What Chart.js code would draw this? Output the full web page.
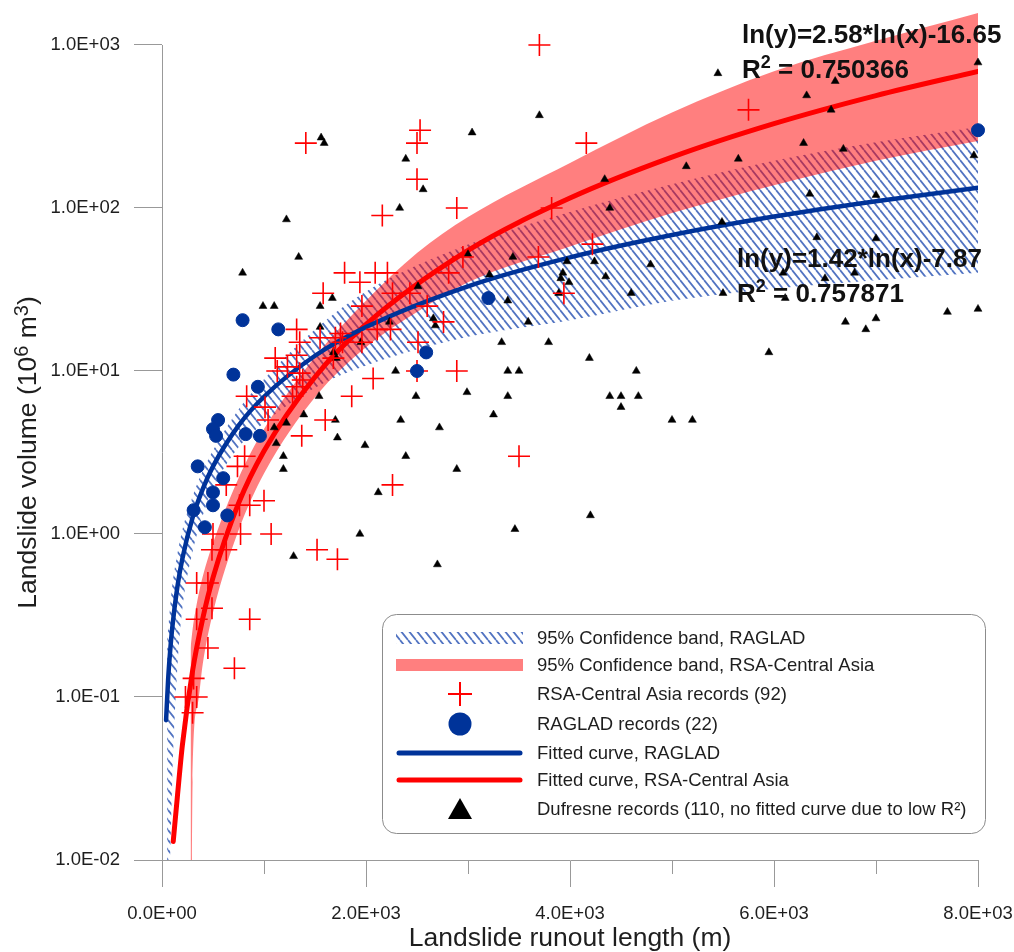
<!DOCTYPE html>
<html>
<head>
<meta charset="utf-8">
<script src="https://cdn.jsdelivr.net/npm/chart.js@4.4.1/dist/chart.umd.min.js"></script>
<style>
  html, body { margin: 0; padding: 0; background: #fff; }
  #wrap { width: 1014px; height: 952px; }
</style>
</head>
<body>
<div id="wrap"><canvas id="myChart" width="1014" height="952"></canvas></div>
<script>
// ---- data ----
const xTicks = [0, 2000, 4000, 6000, 8000];
const xMinorTicks = [1000, 3000, 5000, 7000];
const yTicks = [0.01, 0.1, 1, 10, 100, 1000];
const yMax = 1580; // a bit of room above 1.0E+03 for the red band

// 95% confidence band, RAGLAD
const blueBandX = [50, 80, 100, 150, 200, 300, 400, 500, 750, 1000, 1500, 2000, 3000, 4000, 5000, 6000, 7000, 8000];
const blueBandUpper = [0.22, 0.36, 0.48, 0.75, 1.06, 1.7, 2.45, 3.25, 5.8, 8.9, 18, 30.7, 59.6, 94.6, 140, 195, 253, 314];
const blueBandLower = [0.005, 0.01, 0.03, 0.15, 0.35, 0.78, 1.3, 1.9, 3.4, 4.8, 7.9, 10.8, 16.2, 20.5, 27, 32, 36, 40];

// 95% confidence band, RSA-Central Asia
const redBandX = [280, 300, 350, 400, 500, 750, 1000, 1500, 2000, 2500, 3000, 4000, 5000, 6000, 7000, 8000];
const redBandUpper = [0.2, 0.26, 0.4, 0.55, 0.88, 2.2, 4.4, 12.2, 27, 53, 88, 189, 385, 690, 1060, 1570];
const redBandLower = [0.0001, 0.03, 0.09, 0.16, 0.33, 1.05, 2.35, 6.9, 14, 23, 35, 58, 93, 138, 195, 258];

// fitted curves
const blueCurveX = [40, 60, 80, 100, 150, 200, 300, 400, 500, 750, 1000, 1500, 2000, 3000, 4000, 5000, 6000, 7000, 8000];
const blueCurveY = [0.072, 0.128, 0.192, 0.264, 0.47, 0.708, 1.26, 1.89, 2.6, 4.62, 6.95, 12.4, 18.6, 33.1, 49.8, 68.3, 88.6, 110, 133];
const redCurveX = [110, 150, 200, 300, 400, 500, 750, 1000, 1500, 2000, 3000, 4000, 5000, 6000, 7000, 8000];
const redCurveY = [0.013, 0.0242, 0.0507, 0.145, 0.304, 0.54, 1.54, 3.23, 9.19, 19.3, 54.9, 115, 205, 329, 489, 689];

// RSA-Central Asia records
const rsaX = [3700,1410,2530,2500,2500,2160,4160,2890,3820,5750, 1790,1940,2090,2210,1580,1960,2260,2430,2600,2950,
  2810,3690,4220,3940,2760,1320,1550,1750,2110,2240, 1960,1350,1700,2510,1110,1230,1130,1680,2070,2500,
  2890,1380,1320,1280,830,1860,1010,1600,1040,1370, 810,740,630,2260,1000,860,760,500,770,1070,
  490,630,1520,1720,340,450,3500,490,340,860, 450,710,310,230,340,300,1320,1350,1770];
const rsaY = [1000,250,300,250,150,90,250,100,100,400, 40,35,40,40,30,25,30,30,25,50,
  40,50,60,30,20,18,16,17,18,18, 15,15,16,15,12,10.6,10,12,9,10,
  10,8.8,8,7,7,7,6,5,5,4, 3,2.6,2,2,1.6,1.5,1.5,1,1,1,
  0.8,0.8,0.8,0.7,0.5,0.5,3,0.35,0.3,0.3, 0.2,0.15,0.13,0.1,0.1,0.08,12.5,9.7,15];

// RAGLAD records
const ragladX = [790,1140,700,940,550,500,530,820,960,350,600,500,500,310,640,420,3200,2590,2500,8000];
const ragladY = [20.5,18,9.5,8,5,4.4,4,4.1,4,2.6,2.2,1.8,1.5,1.4,1.3,1.1,28,13,10,300];

// Dufresne records
const dufX = [1560,1590,2390,2560,2330,1220,1340,790,1670,990, 1100,1550,2510,1550,2230,2660,2680,5450,3700,3040,
  5140,4340,4390,3000,3440,3210,3970,4240,4790,3930, 3910,3990,4350,3890,4600,3390,3590,3330,3790,4190,
  3390,3500,4650,2990,3390,4390,4500,4670,4500,3250, 5000,5200,2720,2890,4200,3460,2700,6600,6320,6560,
  8000,6290,6680,5650,7960,6350,7000,5490,6420,7000, 6090,6500,6790,5500,6110,6700,7000,6900,7700,8000,
  5950,1680,1710,1950,2290,2490,1390,1700,2340,1100, 1220,1720,1120,1990,1190,1190,2390,2120,1940,1290,1540];
const dufY = [270,250,200,130,100,85,50,40,28,25, 25,25,33,18.6,20,21,19,670,370,290,
  180,150,100,52,50,39,47,47,45,40, 37,35,38,30,30,27,20,15,15,12,
  10,10,10,7.4,7,7,7,7,6,5.4, 5,5,4.5,2.5,1.3,1.07,0.65,600,490,400,
  780,250,230,200,210,122,120,82,66,65, 40,37,40,30,28,20,21,18,23,24,
  13,13,12,15,10,7,5.4,5,5,4.5, 4.8,3.9,3.6,3.5,3.0,2.5,3.0,1.8,1.0,0.73,7];

const fitLabels = ['ln(y)=2.58*ln(x)-16.65', 'ln(y)=1.42*ln(x)-7.87'];
const r2Labels = ['0.750366', '0.757871'];
const legendLabels = [
  '95% Confidence band, RAGLAD',
  '95% Confidence band, RSA-Central Asia',
  'RSA-Central Asia records (92)',
  'RAGLAD records (22)',
  'Fitted curve, RAGLAD',
  'Fitted curve, RSA-Central Asia',
  'Dufresne records (110, no fitted curve due to low R\u00B2)'
];

// ---- styling ----
const FONT = "'Liberation Sans', Arial, sans-serif";
const RED = '#ff0000';
const BLUE = '#003399';
const RED_BAND = 'rgba(255,0,0,0.5)';
const AXIS = '#999999';
const TXT = '#1e1e1e';

Chart.defaults.font.family = FONT;

function makeHatch() {
  const c = document.createElement('canvas');
  c.width = 8; c.height = 10;
  const g = c.getContext('2d');
  g.strokeStyle = '#5274c2';
  g.lineWidth = 1.8;
  g.beginPath();
  for (const o of [-8, 0, 8]) { g.moveTo(o, 0); g.lineTo(o + 8, 10); }
  g.stroke();
  return g.createPattern(c, 'repeat');
}
const hatch = makeHatch();

const pts = (xs, ys) => xs.map((x, i) => ({x: x, y: ys[i]}));

function sciLabel(v) {
  return Number(v).toExponential(1).toUpperCase()
    .replace(/E([+-])(\d+)$/, (m, s, d) => 'E' + s + d.padStart(2, '0'));
}

function roundRectPath(ctx, x, y, w, h, r) {
  ctx.beginPath();
  ctx.moveTo(x + r, y);
  ctx.arcTo(x + w, y, x + w, y + h, r);
  ctx.arcTo(x + w, y + h, x, y + h, r);
  ctx.arcTo(x, y + h, x, y, r);
  ctx.arcTo(x, y, x + w, y, r);
  ctx.closePath();
}

// text pieces with superscripts: [text, size, raise]
function drawPieces(ctx, pieces, x, y, weight, align) {
  let total = 0;
  pieces.forEach(p => { ctx.font = weight + p[1] + 'px ' + FONT; total += ctx.measureText(p[0]).width; });
  let cx = align === 'center' ? x - total / 2 : x;
  pieces.forEach(p => {
    ctx.font = weight + p[1] + 'px ' + FONT;
    ctx.fillText(p[0], cx, y - p[2]);
    cx += ctx.measureText(p[0]).width;
  });
}

const extras = {
  id: 'extras',
  afterDatasetsDraw(chart) {
    const ctx = chart.ctx;
    ctx.save();
    ctx.fillStyle = '#111';
    ctx.textAlign = 'left';
    ctx.textBaseline = 'alphabetic';
    const spots = [[742, 43], [737, 267]];
    spots.forEach((s, i) => {
      ctx.font = 'bold 26px ' + FONT;
      ctx.fillText(fitLabels[i], s[0], s[1]);
      drawPieces(ctx, [['R', 26, 0], ['2', 18, 10], [' = ' + r2Labels[i], 26, 0]], s[0], s[1] + 35, 'bold ', 'left');
    });
    ctx.restore();
  },
  afterDraw(chart) {
    const ctx = chart.ctx;
    const xs = chart.scales.x, ys = chart.scales.y;
    const area = chart.chartArea;
    ctx.save();
    // y axis line only from 1.0E+03 down
    ctx.strokeStyle = AXIS;
    ctx.lineWidth = 1;
    const lx = Math.round(area.left) + 0.5;
    ctx.beginPath();
    ctx.moveTo(lx, Math.round(ys.getPixelForValue(1000)));
    ctx.lineTo(lx, Math.round(area.bottom));
    ctx.stroke();
    // minor x ticks
    ctx.beginPath();
    xMinorTicks.forEach(v => {
      const px = Math.round(xs.getPixelForValue(v)) + 0.5;
      ctx.moveTo(px, area.bottom);
      ctx.lineTo(px, area.bottom + 14);
    });
    ctx.stroke();

    // axis titles
    ctx.fillStyle = TXT;
    ctx.textBaseline = 'alphabetic';
    drawPieces(ctx, [['Landslide runout length (m)', 26.5, 0]], (area.left + area.right) / 2, 946, '', 'center');
    ctx.save();
    const yc = (ys.getPixelForValue(1000) + area.bottom) / 2;
    ctx.translate(36, yc);
    ctx.rotate(-Math.PI / 2);
    drawPieces(ctx, [['Landslide volume (10', 26.5, 0], ['6', 20, 8], [' m', 26.5, 0], ['3', 20, 8], [')', 26.5, 0]], 0, 0, '', 'center');
    ctx.restore();

    // legend box
    const bx = 382.5, by = 614.5, bw = 603, bh = 219;
    roundRectPath(ctx, bx, by, bw, bh, 14);
    ctx.fillStyle = '#ffffff';
    ctx.fill();
    ctx.strokeStyle = '#8c8c8c';
    ctx.lineWidth = 1;
    ctx.stroke();
    const rows = [638, 665, 694, 724, 753, 780, 809];
    const x0 = 396, x1 = 523, xc = 460;
    ctx.fillStyle = hatch;
    ctx.fillRect(x0, rows[0] - 6, x1 - x0, 12);
    ctx.fillStyle = RED_BAND;
    ctx.fillRect(x0, rows[1] - 6, x1 - x0, 12);
    ctx.strokeStyle = RED;
    ctx.lineWidth = 2;
    ctx.beginPath();
    ctx.moveTo(xc - 12, rows[2]); ctx.lineTo(xc + 12, rows[2]);
    ctx.moveTo(xc, rows[2] - 12); ctx.lineTo(xc, rows[2] + 12);
    ctx.stroke();
    ctx.fillStyle = BLUE;
    ctx.beginPath();
    ctx.arc(xc, rows[3], 11.5, 0, Math.PI * 2);
    ctx.fill();
    ctx.lineCap = 'round';
    ctx.lineWidth = 5;
    ctx.strokeStyle = BLUE;
    ctx.beginPath(); ctx.moveTo(x0 + 3, rows[4]); ctx.lineTo(x1 - 3, rows[4]); ctx.stroke();
    ctx.strokeStyle = RED;
    ctx.beginPath(); ctx.moveTo(x0 + 3, rows[5]); ctx.lineTo(x1 - 3, rows[5]); ctx.stroke();
    ctx.fillStyle = '#000';
    ctx.beginPath();
    ctx.moveTo(xc, rows[6] - 11); ctx.lineTo(xc + 12, rows[6] + 10); ctx.lineTo(xc - 12, rows[6] + 10);
    ctx.closePath();
    ctx.fill();
    ctx.fillStyle = TXT;
    ctx.font = '18.5px ' + FONT;
    ctx.textBaseline = 'middle';
    ctx.textAlign = 'left';
    legendLabels.forEach((t, i) => ctx.fillText(t, 537, rows[i] + 1));
    ctx.restore();
  }
};

const bandClip = {left: 0, right: 0, bottom: 0, top: 0};

var myChart = new Chart(document.getElementById('myChart'), {
  type: 'scatter',
  data: {
    datasets: [{
      type: 'line',
      label: legendLabels[0],
      data: pts(blueBandX, blueBandUpper),
      borderColor: 'transparent',
      borderWidth: 0,
      pointRadius: 0,
      backgroundColor: hatch,
      fill: '+1',
      cubicInterpolationMode: 'monotone',
      order: 10,
      clip: bandClip
    }, {
      type: 'line',
      label: 'blue band lower',
      data: pts(blueBandX, blueBandLower),
      borderColor: 'transparent',
      borderWidth: 0,
      pointRadius: 0,
      fill: false,
      cubicInterpolationMode: 'monotone',
      order: 10,
      clip: bandClip
    }, {
      type: 'line',
      label: legendLabels[1],
      data: pts(redBandX, redBandUpper),
      borderColor: 'transparent',
      borderWidth: 0,
      pointRadius: 0,
      backgroundColor: RED_BAND,
      fill: '+1',
      cubicInterpolationMode: 'monotone',
      order: 9,
      clip: bandClip
    }, {
      type: 'line',
      label: 'red band lower',
      data: pts(redBandX, redBandLower),
      borderColor: 'transparent',
      borderWidth: 0,
      pointRadius: 0,
      fill: false,
      cubicInterpolationMode: 'monotone',
      order: 9,
      clip: bandClip
    }, {
      type: 'line',
      label: legendLabels[5],
      data: pts(redCurveX, redCurveY),
      borderColor: RED,
      borderWidth: 5,
      borderCapStyle: 'round',
      pointRadius: 0,
      fill: false,
      cubicInterpolationMode: 'monotone',
      order: 8
    }, {
      type: 'line',
      label: legendLabels[4],
      data: pts(blueCurveX, blueCurveY),
      borderColor: BLUE,
      borderWidth: 4.5,
      borderCapStyle: 'round',
      pointRadius: 0,
      fill: false,
      cubicInterpolationMode: 'monotone',
      order: 7
    }, {
      label: legendLabels[6],
      data: pts(dufX, dufY),
      pointStyle: 'triangle',
      pointRadius: 4.6,
      backgroundColor: '#000',
      borderColor: '#000',
      borderWidth: 0.5,
      order: 4,
      clip: false
    }, {
      label: legendLabels[2],
      data: pts(rsaX, rsaY),
      pointStyle: 'cross',
      pointRadius: 11,
      borderColor: RED,
      borderWidth: 1.6,
      order: 3,
      clip: false
    }, {
      label: legendLabels[3],
      data: pts(ragladX, ragladY),
      pointStyle: 'circle',
      pointRadius: 6.5,
      backgroundColor: BLUE,
      borderColor: BLUE,
      borderWidth: 1,
      order: 2,
      clip: false
    }]
  },
  options: {
    responsive: false,
    animation: false,
    events: [],
    layout: { padding: { left: 0, top: 0, right: 36, bottom: 0 } },
    plugins: {
      legend: { display: false },
      tooltip: { enabled: false }
    },
    scales: {
      x: {
        type: 'linear',
        min: 0,
        max: 8000,
        afterBuildTicks: s => { s.ticks = xTicks.map(v => ({value: v})); },
        afterFit: s => { s.height = 92; s.paddingLeft = 0; s.paddingRight = 0; },
        border: { display: true, color: AXIS, width: 1 },
        grid: { drawOnChartArea: false, drawTicks: true, tickLength: 27, color: AXIS },
        ticks: {
          callback: v => sciLabel(v),
          color: TXT,
          padding: 16,
          maxRotation: 0,
          font: { size: 18.5 }
        },
        title: { display: false }
      },
      y: {
        type: 'logarithmic',
        min: 0.01,
        max: yMax,
        afterBuildTicks: s => { s.ticks = yTicks.map(v => ({value: v})); },
        afterFit: s => { s.width = 162; s.paddingTop = 0; s.paddingBottom = 0; },
        border: { display: false },
        grid: { drawOnChartArea: false, drawTicks: true, tickLength: 28, color: AXIS },
        ticks: {
          callback: v => sciLabel(v),
          color: TXT,
          padding: 14,
          font: { size: 18.5 }
        },
        title: { display: false }
      }
    }
  },
  plugins: [extras]
});
</script>
</body>
</html>
